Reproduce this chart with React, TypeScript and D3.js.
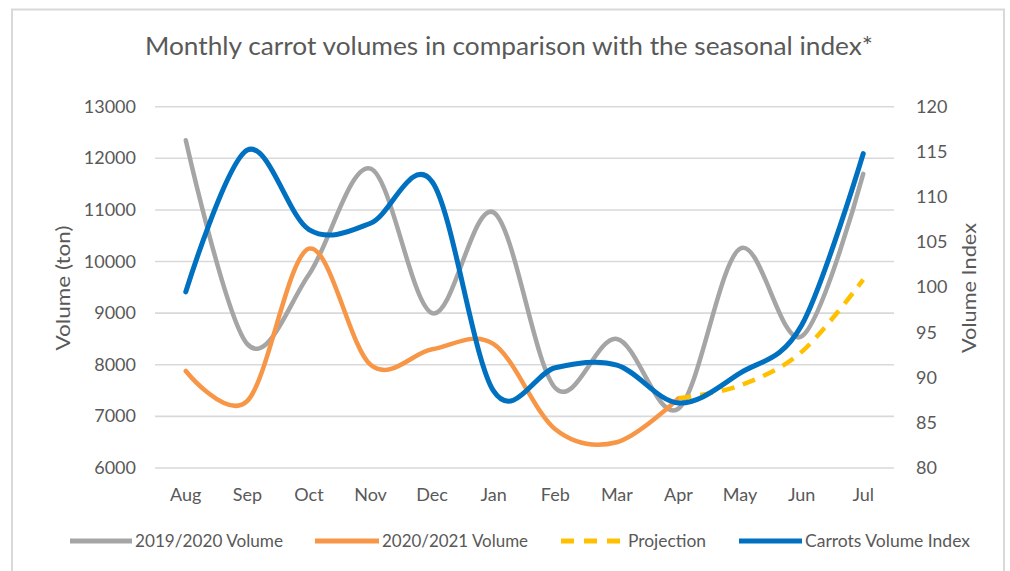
import { useEffect, useRef } from 'react';
import * as d3 from 'd3';

const months = ['Aug', 'Sep', 'Oct', 'Nov', 'Dec', 'Jan', 'Feb', 'Mar', 'Apr', 'May', 'Jun', 'Jul'];
const volume1920 = [12350, 8400, 9750, 11800, 9000, 10950, 7550, 8500, 7150, 10250, 8550, 11700];
const volume2021Months = ['Aug', 'Sep', 'Oct', 'Nov', 'Dec', 'Jan', 'Feb', 'Mar', 'Apr'];
const volume2021 = [7880, 7300, 10250, 8000, 8300, 8400, 6750, 6500, 7350];
const projectionMonths = ['Apr', 'May', 'Jun', 'Jul'];
const projection = [7350, 7600, 8250, 9650];
const volumeIndex = [99.5, 115.2, 106.4, 107.1, 111.7, 88.5, 91.1, 91.4, 87.2, 90.5, 95.8, 114.8];
const leftTicks = [6000, 7000, 8000, 9000, 10000, 11000, 12000, 13000];
const rightTicks = [80, 85, 90, 95, 100, 105, 110, 115, 120];

const W = 1010;
const H = 571;
const FONT = 'Lato, "Open Sans", sans-serif';
const TEXT = '#595959';

export default function App() {
  const svgRef = useRef<SVGSVGElement>(null);

  useEffect(() => {
    if (!svgRef.current) return;
    const svg = d3.select(svgRef.current);
    svg.selectAll('*').remove();

    const plot = { left: 155, right: 894, top: 106.7, bottom: 468 };

    const x = d3.scalePoint<string>().domain(months).range([plot.left, plot.right]).padding(0.5);
    const yL = d3.scaleLinear().domain([6000, 13000]).range([plot.bottom, plot.top]);
    const yR = d3.scaleLinear().domain([80, 120]).range([plot.bottom, plot.top]);

    // chart border
    svg.append('rect')
      .attr('x', 12).attr('y', 9.5)
      .attr('width', 992).attr('height', 580)
      .attr('fill', '#fff')
      .attr('stroke', '#D9D9D9')
      .attr('stroke-width', 2);

    // title
    svg.append('text')
      .attr('x', 509).attr('y', 55)
      .attr('text-anchor', 'middle')
      .attr('font-family', FONT)
      .attr('font-size', 25)
      .attr('fill', TEXT)
      .attr('textLength', 728)
      .attr('lengthAdjust', 'spacingAndGlyphs')
      .text('Monthly carrot volumes in comparison with the seasonal index*');

    // gridlines
    svg.append('g')
      .selectAll('line')
      .data(leftTicks)
      .join('line')
      .attr('x1', plot.left).attr('x2', plot.right)
      .attr('y1', (d) => yL(d)).attr('y2', (d) => yL(d))
      .attr('stroke', '#D9D9D9')
      .attr('stroke-width', 1.6);

    // left axis labels
    svg.append('g')
      .selectAll('text')
      .data(leftTicks)
      .join('text')
      .attr('x', 136)
      .attr('y', (d) => yL(d) + 6)
      .attr('text-anchor', 'end')
      .attr('font-family', FONT)
      .attr('font-size', 18)
      .attr('fill', TEXT)
      .text((d) => String(d));

    // right axis labels
    svg.append('g')
      .selectAll('text')
      .data(rightTicks)
      .join('text')
      .attr('x', 916)
      .attr('y', (d) => yR(d) + 6)
      .attr('text-anchor', 'start')
      .attr('font-family', FONT)
      .attr('font-size', 18)
      .attr('fill', TEXT)
      .text((d) => String(d));

    // x labels
    svg.append('g')
      .selectAll('text')
      .data(months)
      .join('text')
      .attr('x', (d) => x(d)!)
      .attr('y', 501)
      .attr('text-anchor', 'middle')
      .attr('font-family', FONT)
      .attr('font-size', 18)
      .attr('fill', TEXT)
      .text((d) => d);

    // axis titles
    svg.append('text')
      .attr('transform', 'translate(70,288) rotate(-90)')
      .attr('text-anchor', 'middle')
      .attr('font-family', FONT)
      .attr('font-size', 20)
      .attr('fill', TEXT)
      .attr('textLength', 125)
      .attr('lengthAdjust', 'spacingAndGlyphs')
      .text('Volume (ton)');

    svg.append('text')
      .attr('transform', 'translate(976,288) rotate(-90)')
      .attr('text-anchor', 'middle')
      .attr('font-family', FONT)
      .attr('font-size', 20)
      .attr('fill', TEXT)
      .attr('textLength', 130)
      .attr('lengthAdjust', 'spacingAndGlyphs')
      .text('Volume Index');

    const curve = d3.curveCardinal.tension(0);

    const lineL = d3.line<[string, number]>()
      .x((d) => x(d[0])!)
      .y((d) => yL(d[1]))
      .curve(curve);
    const lineR = d3.line<[string, number]>()
      .x((d) => x(d[0])!)
      .y((d) => yR(d[1]))
      .curve(curve);

    const g = svg.append('g').attr('fill', 'none').attr('stroke-linecap', 'round');

    g.append('path')
      .attr('d', lineL(months.map((m, i) => [m, volume1920[i]] as [string, number])))
      .attr('stroke', '#A5A5A5')
      .attr('stroke-width', 4.5);

    g.append('path')
      .attr('d', lineL(volume2021Months.map((m, i) => [m, volume2021[i]] as [string, number])))
      .attr('stroke', '#F79646')
      .attr('stroke-width', 4.5);

    g.append('path')
      .attr('d', lineL(projectionMonths.map((m, i) => [m, projection[i]] as [string, number])))
      .attr('stroke', '#FFC000')
      .attr('stroke-width', 4.5)
      .attr('stroke-linecap', 'butt')
      .attr('stroke-dasharray', '13,9');

    g.append('path')
      .attr('d', lineR(months.map((m, i) => [m, volumeIndex[i]] as [string, number])))
      .attr('stroke', '#0070C0')
      .attr('stroke-width', 5);

    // legend
    const legend = [
      { label: '2019/2020 Volume', color: '#A5A5A5', dash: null, x0: 70, x1: 132, tx: 135, tw: 148 },
      { label: '2020/2021 Volume', color: '#F79646', dash: null, x0: 315, x1: 379, tx: 382, tw: 146 },
      { label: 'Projection', color: '#FFC000', dash: '13,10', x0: 561, x1: 620, tx: 628, tw: 78 },
      { label: 'Carrots Volume Index', color: '#0070C0', dash: null, x0: 739, x1: 802, tx: 805, tw: 165 },
    ];
    const lg = svg.append('g');
    legend.forEach((l) => {
      lg.append('line')
        .attr('x1', l.x0).attr('x2', l.x1)
        .attr('y1', 541).attr('y2', 541)
        .attr('stroke', l.color)
        .attr('stroke-width', 5)
        .attr('stroke-dasharray', l.dash);
      lg.append('text')
        .attr('x', l.tx).attr('y', 547)
        .attr('font-family', FONT)
        .attr('font-size', 17)
        .attr('fill', TEXT)
        .attr('textLength', l.tw)
        .attr('lengthAdjust', 'spacingAndGlyphs')
        .text(l.label);
    });
  }, []);

  return (
    <svg
      ref={svgRef}
      width={W}
      height={H}
      style={{ position: 'absolute', left: 0, top: 0, display: 'block', background: '#fff' }}
    />
  );
}
